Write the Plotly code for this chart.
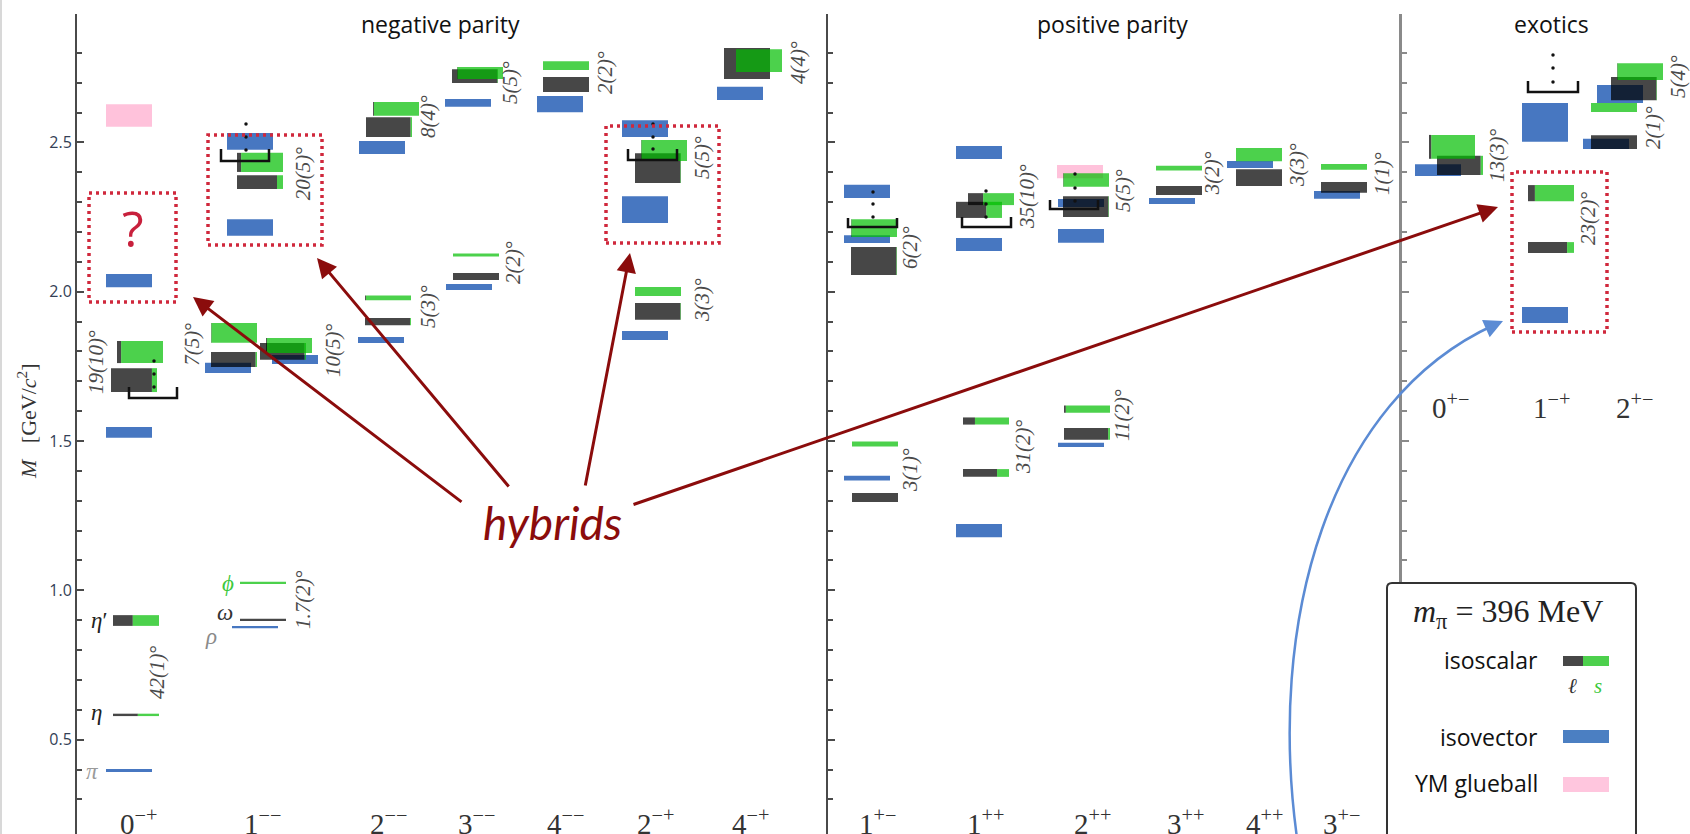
import plotly.graph_objects as go

# ---------------------------------------------------------------- data
# isovector states: J^PC column, mass [GeV], half-height (uncertainty)
iv_jpc = ["0-+", "0-+", "0-+", "1--", "1--", "1--", "1--", "1--", "2--", "2--",
          "3--", "3--", "4--", "2-+", "2-+", "2-+", "4-+", "1+-", "1+-", "1+-",
          "1++", "1++", "1++", "2++", "2++", "2++", "3++", "4++", "3+-", "0+-",
          "1-+", "1-+", "2+-", "2+-"]
iv_mass = [0.397, 1.529, 2.037, 0.877, 1.745, 1.773, 2.215, 2.503, 1.838, 2.483,
           2.016, 2.632, 2.628, 1.853, 2.275, 2.546, 2.664, 1.376, 2.176, 2.336,
           1.200, 2.158, 2.466, 1.487, 2.187, 2.297, 2.304, 2.426, 2.324, 2.407,
           1.922, 2.567, 2.495, 2.662]
iv_err = [0.005, 0.018, 0.022, 0.004, 0.017, 0.015, 0.028, 0.028, 0.010, 0.022,
          0.010, 0.013, 0.027, 0.015, 0.045, 0.028, 0.022, 0.008, 0.013, 0.022,
          0.022, 0.022, 0.022, 0.007, 0.023, 0.013, 0.010, 0.012, 0.013, 0.020,
          0.027, 0.065, 0.017, 0.030]

# isoscalar states: mass, half-height, light-quark (l) fraction (rest is s)
is_jpc = (["0-+"] * 4 + ["1--"] * 8 + ["2--"] * 4 + ["3--"] * 4 + ["4--"] * 2 +
          ["2-+"] * 4 + ["4-+"] * 2 + ["1+-"] * 4 + ["1++"] * 4 + ["2++"] * 4 +
          ["3++"] * 2 + ["4++"] * 2 + ["3+-"] * 2 + ["0+-"] * 2 + ["1-+"] * 2 + ["2+-"] * 4)
is_mass = [0.583, 0.899, 1.704, 1.798,
           0.901, 1.025, 1.773, 1.862, 1.800, 1.820, 2.367, 2.433,
           1.900, 1.979, 2.551, 2.612,
           2.051, 2.123, 2.722, 2.732,
           2.694, 2.757,
           1.934, 2.001, 2.414, 2.473,
           2.764, 2.774,
           1.311, 1.490, 2.103, 2.213,
           1.393, 1.567, 2.274, 2.310,
           1.524, 1.607, 2.285, 2.374,
           2.339, 2.414,
           2.382, 2.459,
           2.349, 2.418,
           2.423, 2.485,
           2.148, 2.330,
           2.501, 2.617, 2.680, 2.737]
is_err = [0.004, 0.018, 0.040, 0.037,
          0.004, 0.004, 0.025, 0.033, 0.028, 0.025, 0.023, 0.032,
          0.012, 0.008, 0.033, 0.023,
          0.012, 0.005, 0.023, 0.020,
          0.025, 0.015,
          0.028, 0.015, 0.050, 0.035,
          0.052, 0.038,
          0.015, 0.008, 0.047, 0.030,
          0.013, 0.012, 0.027, 0.020,
          0.020, 0.012, 0.035, 0.023,
          0.015, 0.008,
          0.028, 0.022,
          0.018, 0.010,
          0.032, 0.040,
          0.018, 0.027,
          0.023, 0.015, 0.039, 0.028]
is_light = [0.54, 0.43, 0.89, 0.09,
            1.00, 0.00, 0.97, 0.01, 0.97, 0.02, 0.87, 0.09,
            0.98, 0.02, 0.97, 0.02,
            1.00, 0.00, 0.99, 0.01,
            1.00, 0.00,
            0.99, 0.00, 0.99, 0.01,
            1.00, 0.00,
            1.00, 0.00, 0.99, 0.01,
            0.74, 0.26, 0.66, 0.33,
            0.96, 0.04, 0.99, 0.01,
            1.00, 0.00,
            1.00, 0.00,
            1.00, 0.00,
            0.95, 0.05,
            0.85, 0.15,
            1.00, 0.00, 0.99, 0.01]

# Yang-Mills glueballs
gb_jpc = ["0-+", "2++"]
gb_mass = [2.590, 2.402]
gb_err = [0.038, 0.022]

# mixing angles
mix_jpc = ["0-+", "0-+", "1--", "1--", "1--", "1--", "2--", "2--", "3--", "3--",
           "4--", "2-+", "2-+", "4-+", "1+-", "1+-", "1++", "1++", "2++", "2++",
           "3++", "4++", "3+-", "0+-", "1-+", "2+-", "2+-"]
mix_angle = ["19(10)", "42(1)", "7(5)", "10(5)", "20(5)", "1.7(2)", "8(4)", "5(3)",
             "5(5)", "2(2)", "2(2)", "5(5)", "3(3)", "4(4)", "6(2)", "3(1)", "35(10)",
             "31(2)", "5(5)", "11(2)", "3(2)", "3(3)", "1(1)", "13(3)", "23(2)",
             "2(1)", "5(4)"]

# J^PC tick labels
jpc_labels = ["0-+", "1--", "2--", "3--", "4--", "2-+", "4-+",
              "1+-", "1++", "2++", "3++", "4++", "3+-",
              "0+-", "1-+", "2+-"]
y_ticks = [0.5, 1.0, 1.5, 2.0, 2.5]
y_tick_text = ["0.5", "1.0", "1.5", "2.0", "2.5"]
panel_titles = ["negative parity", "positive parity", "exotics"]

# ---------------------------------------------------------------- layout (px along the x axis)
W, H = 1690, 834
BAR_W = 46
iv_x0 = [106, 106, 106, 232, 205, 272, 227, 227, 358, 359,
         446, 445, 537, 622, 622, 622, 717, 844, 844, 844,
         956, 956, 956, 1058, 1058, 1058, 1149, 1227, 1314, 1415,
         1522, 1522, 1583, 1597]
is_x0 = [113, 113, 111, 117,
         240, 240, 211, 211, 260, 266, 237, 237,
         365, 365, 366, 373,
         453, 453, 452, 457,
         543, 543,
         635, 635, 635, 641,
         724, 736,
         852, 852, 851, 851,
         963, 963, 956, 968,
         1064, 1064, 1063, 1063,
         1156, 1156,
         1236, 1236,
         1321, 1321,
         1437, 1429,
         1528, 1528,
         1591, 1591, 1611, 1617]
gb_x0 = [106, 1057]
mix_x = [96, 157, 192, 333, 303, 303, 428, 428, 510, 513, 605, 702, 702, 798, 910, 910,
         1027, 1023, 1123, 1122, 1212, 1297, 1382, 1497, 1588, 1653, 1678]
mix_y = [1.765, 0.727, 1.822, 1.805, 2.397, 0.968, 2.585, 1.949, 2.699, 2.096, 2.732,
         2.448, 1.972, 2.766, 2.146, 1.403, 2.317, 1.480, 2.337, 1.587, 2.397, 2.424,
         2.394, 2.458, 2.247, 2.548, 2.719]
jpc_x = [138, 262, 388, 476, 565, 655, 750, 877, 985, 1092, 1185, 1264, 1341, 1450, 1551, 1634]
jpc_py = [822] * 13 + [406] * 3
title_x = [441, 1112, 1551]
axis_x = [76, 827, 1400]

# pixel <-> axis helpers (for decorations only)
Y0_PX, PX_PER_GEV, Y_TOP_PX = 889.0, 298.65, 14


def m_of(py):
    return (Y0_PX - py) / PX_PER_GEV


def paper_x(x):
    return x / W


def paper_y(y):
    return 1 - y / H


ymin, ymax = m_of(H), m_of(Y_TOP_PX)

BLUE = "rgba(25,85,178,0.80)"
BLACK = "rgba(0,0,0,0.72)"
GREEN = "rgba(0,190,0,0.70)"
PINK = "rgba(255,110,170,0.42)"
DARKRED = "#8b0c0c"
DOTRED = "#d0283c"
CURVEBLUE = "#5b8bd4"
SERIF = "Liberation Serif"
SANS = "Open Sans"

fig = go.Figure()


def add_bars(x0s, fracs_lo, fracs_hi, mass, err, color):
    xs, ws, bases, hs = [], [], [], []
    for x0, a, b, m, e in zip(x0s, fracs_lo, fracs_hi, mass, err):
        xs.append(x0 + BAR_W * (a + b) / 2)
        ws.append(BAR_W * (b - a))
        bases.append(m - e)
        hs.append(2 * e)
    fig.add_trace(go.Bar(x=xs, y=hs, base=bases, width=ws,
                         marker=dict(color=color, line=dict(width=0)),
                         hoverinfo="skip", showlegend=False))


n_gb, n_iv = len(gb_mass), len(iv_mass)
add_bars(gb_x0, [0] * n_gb, [1] * n_gb, gb_mass, gb_err, PINK)
add_bars(iv_x0, [0] * n_iv, [1] * n_iv, iv_mass, iv_err, BLUE)
add_bars(is_x0, [0] * len(is_mass), is_light, is_mass, is_err, BLACK)
add_bars(is_x0, is_light, [1] * len(is_mass), is_mass, is_err, GREEN)

# brackets with vertical ellipses (px positions)
brackets = [(129, 177, 387, 398, 154, [361, 374, 387]),
            (221, 269, 149, 161, 246, [124, 137, 150]),
            (628, 677, 149, 160, 653, [124, 137, 149]),
            (848, 897, 218, 227, 873, [192, 204, 217]),
            (962, 1011, 217, 227, 986, [191, 204, 217]),
            (1050, 1098, 200, 209, 1075, [174, 188, 201]),
            (1528, 1578, 81, 92, 1553, [55, 68, 82])]
for x0, x1, yt, yb, dx, dys in brackets:
    fig.add_trace(go.Scatter(x=[x0, x0, x1, x1], y=[m_of(yt), m_of(yb), m_of(yb), m_of(yt)],
                             mode="lines", line=dict(color="#111", width=2.5),
                             hoverinfo="skip", showlegend=False))
    fig.add_trace(go.Scatter(x=[dx] * len(dys), y=[m_of(v) for v in dys], mode="markers",
                             marker=dict(color="#111", size=3.5), hoverinfo="skip",
                             showlegend=False))

# dummy traces so the extra axes exist
for ax in ["y2", "y3"]:
    fig.add_trace(go.Scatter(x=[0], y=[1.0], yaxis=ax, mode="markers",
                             marker=dict(opacity=0), hoverinfo="skip", showlegend=False))

shapes = []
# left page border
shapes.append(dict(type="line", xref="paper", yref="paper", x0=paper_x(1), x1=paper_x(1),
                   y0=0, y1=1, line=dict(color="#d8d8d8", width=2)))
# red dotted boxes
for x0, x1, yt, yb in [(89, 176, 193, 302), (208, 322, 135, 245),
                       (606, 719, 126, 243), (1512, 1607, 172, 332)]:
    shapes.append(dict(type="rect", xref="x", yref="y", x0=x0, x1=x1, y0=m_of(yb), y1=m_of(yt),
                       line=dict(color=DOTRED, width=3.5, dash="3px,4px"), fillcolor="rgba(0,0,0,0)"))
# blue curve
shapes.append(dict(type="path", xref="x", yref="y",
                   path="M 1298,%.4f C 1265,%.4f 1330,%.4f 1494,%.4f" % (m_of(845), m_of(620), m_of(400), m_of(325)),
                   line=dict(color=CURVEBLUE, width=2.5)))
# legend box
lx0, lx1, ly0 = paper_x(1387), paper_x(1636), paper_y(583)
rx, ry = 5 / W, 5 / H
shapes.append(dict(type="path", xref="paper", yref="paper",
                   path=("M %f,%f L %f,%f Q %f,%f %f,%f L %f,%f Q %f,%f %f,%f L %f,%f Z" % (
                       lx0, -0.05, lx0, ly0 - ry, lx0, ly0, lx0 + rx, ly0, lx1 - rx, ly0,
                       lx1, ly0, lx1, ly0 - ry, lx1, -0.05)),
                   line=dict(color="#333", width=2), fillcolor="white", layer="above"))
# legend swatches
for x0, x1, y0, y1, col in [(1563, 1583, 656, 666, "#474747"), (1583, 1609, 656, 666, "#4dd04d"),
                            (1563, 1609, 730, 743, "#4b7fc2"), (1563, 1609, 777, 792, "#ffc6de")]:
    shapes.append(dict(type="rect", xref="paper", yref="paper", x0=paper_x(x0), x1=paper_x(x1),
                       y0=paper_y(y1), y1=paper_y(y0), fillcolor=col, line=dict(width=0),
                       layer="above"))

ann = []


def text_ann(text, x, y, ref, size, color, family, angle=0, xanchor="center"):
    xr, yr = ("paper", "paper") if ref == "paper" else ("x", "y")
    ann.append(dict(text=text, x=x, y=y, xref=xr, yref=yr, xanchor=xanchor, yanchor="middle",
                    textangle=angle, showarrow=False,
                    font=dict(family=family, size=size, color=color)))


# panel titles
for t, x in zip(panel_titles, title_x):
    text_ann(t, paper_x(x), paper_y(24), "paper", 23, "#111", SANS)
# y axis title
text_ann("<i>M</i>\u00a0\u00a0\u00a0[GeV/<i>c</i><sup>2</sup>]", paper_x(27), paper_y(421), "paper",
         22, "#333", SERIF, angle=-90)
# J^PC labels
for lab, x, py in zip(jpc_labels, jpc_x, jpc_py):
    txt = lab[0] + "<sup>" + lab[1:].replace("-", "\u2212") + "</sup>"
    text_ann(txt, x, m_of(py), "data", 29, "#333", SERIF)
# mixing angles
for a, x, y in zip(mix_angle, mix_x, mix_y):
    text_ann("<i>" + a + "</i>\u00b0", x, y, "data", 21, "#4a4a4a", SERIF, angle=-90)
# particle names
for t, x, py, col in [("<i>\u03c0</i>", 92, 771, "#9a9a9a"), ("<i>\u03b7</i>", 96, 712, "#222"),
                      ("<i>\u03b7</i>\u2032", 99, 620, "#222"), ("<i>\u03c1</i>", 211, 636, "#8a8a8a"),
                      ("<i>\u03c9</i>", 225, 612, "#333"), ("<i>\u03d5</i>", 228, 583, "#3cc83c")]:
    text_ann(t, x, m_of(py), "data", 23, col, SERIF)
# question mark
text_ann("?", 133, m_of(228), "data", 50, "#c8203c", SANS)
# hybrids
text_ann("<i>hybrids</i>", 552, m_of(522), "data", 46, DARKRED, "Lato")
# red arrows
for (tx, ty), (hx, hy) in [((463, 503), (193, 297)), ((510, 488), (317, 258)),
                           ((585, 487), (630, 253)), ((632, 505), (1498, 207))]:
    ann.append(dict(text="", x=hx, y=m_of(hy), ax=tx, ay=m_of(ty), xref="x", yref="y",
                    axref="x", ayref="y", showarrow=True, arrowhead=2, arrowsize=1.3,
                    arrowwidth=3, arrowcolor=DARKRED, standoff=0))
# blue arrow head
ann.append(dict(text="", x=1503, y=m_of(321), ax=1485, ay=m_of(329), xref="x", yref="y",
                axref="x", ayref="y", showarrow=True, arrowhead=2, arrowsize=1.5,
                arrowwidth=2.5, arrowcolor=CURVEBLUE, standoff=0))
# legend texts
text_ann("<i>m</i><sub>\u03c0</sub>\u00a0=\u00a0396\u00a0MeV", paper_x(1508), paper_y(613), "paper",
         32, "#222", SERIF)
for t, py in [("isoscalar", 660), ("isovector", 737), ("YM glueball", 783)]:
    text_ann(t, paper_x(1540), paper_y(py), "paper", 23, "#111", SANS, xanchor="right")
text_ann("<i>\u2113</i>", paper_x(1572), paper_y(686), "paper", 21, "#333", SERIF)
text_ann("<i>s</i>", paper_x(1598), paper_y(686), "paper", 21, "#3cc83c", SERIF)

minor_vals = [round(0.1 * k, 1) for k in range(3, 29) if k % 5]


def yax(pos, color, labels, extra=None):
    d = dict(range=[ymin, ymax], domain=[0, 1 - Y_TOP_PX / H], anchor="free", position=pos,
             side="left", showline=True, linecolor=color, linewidth=2, ticks="inside",
             ticklen=7, tickwidth=1.5, tickcolor=color, tickvals=y_ticks, ticktext=y_tick_text,
             showticklabels=labels, tickfont=dict(family=SANS, size=16, color="#334055"),
             minor=dict(tickmode="array", tickvals=minor_vals, ticks="inside", ticklen=5,
                        tickwidth=1.5, tickcolor=color),
             showgrid=False, zeroline=False, fixedrange=True)
    if extra:
        d.update(extra)
    return d


fig.update_layout(
    width=W, height=H, margin=dict(l=0, r=0, t=0, b=0),
    paper_bgcolor="white", plot_bgcolor="white", barmode="overlay", showlegend=False,
    xaxis=dict(range=[0, W], domain=[0, 1], visible=False, fixedrange=True),
    yaxis=yax(paper_x(axis_x[0]), "#4a4a4a", True),
    yaxis2=yax(paper_x(axis_x[1]), "#4a4a4a", False, dict(overlaying="y")),
    yaxis3=yax(paper_x(axis_x[2]), "#8a8a8a", False, dict(overlaying="y", linewidth=2.5)),
    shapes=shapes, annotations=ann,
)

fig.write_html("out.html")
